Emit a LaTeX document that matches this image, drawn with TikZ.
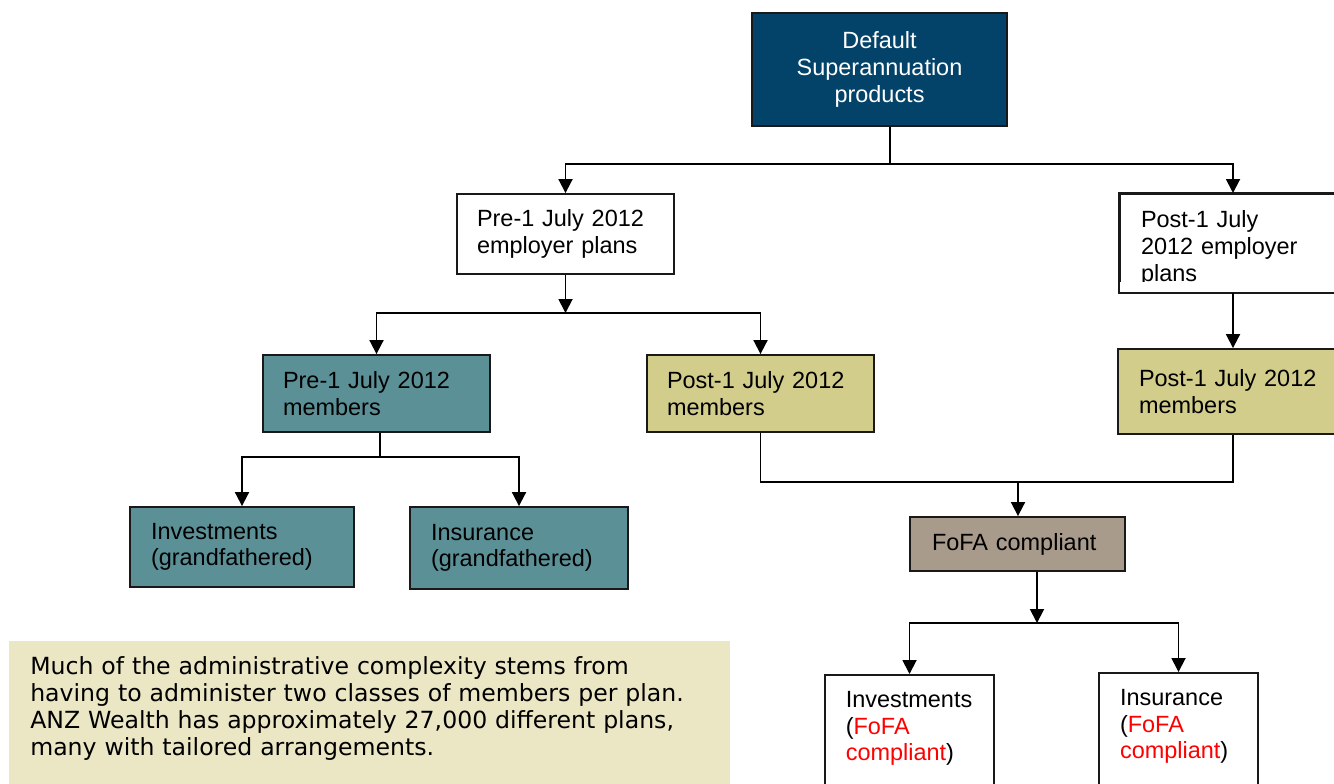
\documentclass[tikz,border=0pt]{standalone}
\usepackage{fontspec}
\setmainfont{Liberation Sans}
\newfontfamily\notefont{DejaVu Sans}
\usetikzlibrary{arrows.meta}

\definecolor{navybox}{RGB}{4,67,105}
\definecolor{tealbox}{RGB}{91,144,151}
\definecolor{khakibox}{RGB}{210,205,139}
\definecolor{taupebox}{RGB}{169,155,140}
\definecolor{notebg}{RGB}{235,230,196}
\definecolor{edge}{RGB}{25,25,25}

\tikzset{
  box/.style={draw=edge, line width=1.4pt, rectangle, inner sep=0pt,
    font=\fontsize{17.6}{20}\selectfont, align=left},
  leftbox/.style n args={3}{box, minimum width=#1, minimum height=#2,
    text width=#1-2*#3, inner xsep=#3},
  topbox/.style n args={2}{box, anchor=north, text width=#1-31.5pt,
    inner xsep=15.75pt, inner ysep=#2},
  link/.style={line width=1.4pt, draw=black},
  arr/.style={link, -{Triangle[width=10.5pt,length=10.5pt]}},
}

\begin{document}
\begin{tikzpicture}[x=0.75pt, y=-0.75pt]
  \clip (0,0) rectangle (1334,783);
  \fill[white] (0,0) rectangle (1334,783);

  % top level
  \node[box, fill=navybox, text=white, align=center,
        minimum width=191.25pt, minimum height=84.75pt] (def) at (879.5,69.5)
        {Default\\Superannuation\\products};

  % employer plans
  \node[leftbox={162.75pt}{60pt}{15pt}, fill=white] (preplan) at (565.5,234)
        {Pre-1 July 2012\\employer plans};
  \begin{scope}
    % the text frame of this box cuts off its last line
    \clip (1100,150) rectangle (1334,281.5);
    \node[topbox={169.5pt}{11.5pt}, fill=white, text depth=36.5pt] (postplan)
          at (1233,193) {\strut Post-1 July\\2012 employer\\plans};
  \end{scope}
  \draw[draw=edge, line width=1.4pt] (postplan.south west) rectangle (postplan.north east);

  % member classes
  \node[leftbox={170.25pt}{57.75pt}{15pt}, fill=tealbox] (premem) at (376.5,393.5)
        {Pre-1 July 2012\\members};
  \node[leftbox={170.25pt}{57.75pt}{15pt}, fill=khakibox] (postmem) at (760.5,393.5)
        {Post-1 July 2012\\members};
  \node[leftbox={172.5pt}{63.75pt}{15.75pt}, fill=khakibox] (postmemb) at (1233,391.5)
        {Post-1 July 2012\\members};

  % grandfathered products
  \node[leftbox={168pt}{60pt}{15.75pt}, fill=tealbox] (invg) at (242,547)
        {Investments\\(grandfathered)};
  \node[leftbox={163.5pt}{61.5pt}{15.75pt}, fill=tealbox] (insg) at (519,548)
        {Insurance\\(grandfathered)};

  % FoFA branch
  \node[leftbox={161.25pt}{40.5pt}{16.5pt}, fill=taupebox] (fofa) at (1017.5,544)
        {FoFA compliant};
  \node[topbox={127.1pt}{10.5pt}, fill=white, text depth=120pt] (invf) at (909.5,674)
        {\strut Investments\\(\textcolor{red}{FoFA}\\\textcolor{red}{compliant})};
  \node[topbox={119.25pt}{10.5pt}, fill=white, text depth=120pt] (insf) at (1178.5,672)
        {\strut Insurance\\(\textcolor{red}{FoFA}\\\textcolor{red}{compliant})};

  % explanatory note
  \node[anchor=north west, fill=notebg, inner xsep=15.75pt, inner ysep=11pt,
        text width=509pt, align=left, text depth=120pt,
        font=\notefont\fontsize{17.7}{20.25}\selectfont] (note) at (9,641)
        {\strut Much of the administrative complexity stems from\\
         having to administer two classes of members per plan.\\
         ANZ Wealth has approximately 27,000 different plans,\\
         many with tailored arrangements.};

  % junction points of the branching connectors
  \coordinate (j0) at (890,164);
  \coordinate (j1) at (565.5,313);
  \coordinate (j2) at (380,457);
  \coordinate (j3) at (1018,482);
  \coordinate (j4) at (1037,623);

  % connectors
  \draw[link] (def.south -| j0) -- (j0);
  \draw[arr] (j0) -| (preplan.north);
  \draw[arr] (j0) -| (postplan.north);

  \draw[arr] (preplan.south) -- (j1);
  \draw[arr] (j1) -| (premem.north);
  \draw[arr] (j1) -| (postmem.north);

  \draw[arr] (postplan.south) -- (postmemb.north);

  \draw[link] (premem.south -| j2) -- (j2);
  \draw[arr] (j2) -| (invg.north);
  \draw[arr] (j2) -| (insg.north);

  \draw[link] (postmem.south) |- (j3) -| (postmemb.south);
  \draw[arr] (j3) -- (fofa.north -| j3);

  \draw[arr] (fofa.south -| j4) -- (j4);
  \draw[arr] (j4) -| (invf.north);
  \draw[arr] (j4) -| (insf.north);
\end{tikzpicture}
\end{document}
